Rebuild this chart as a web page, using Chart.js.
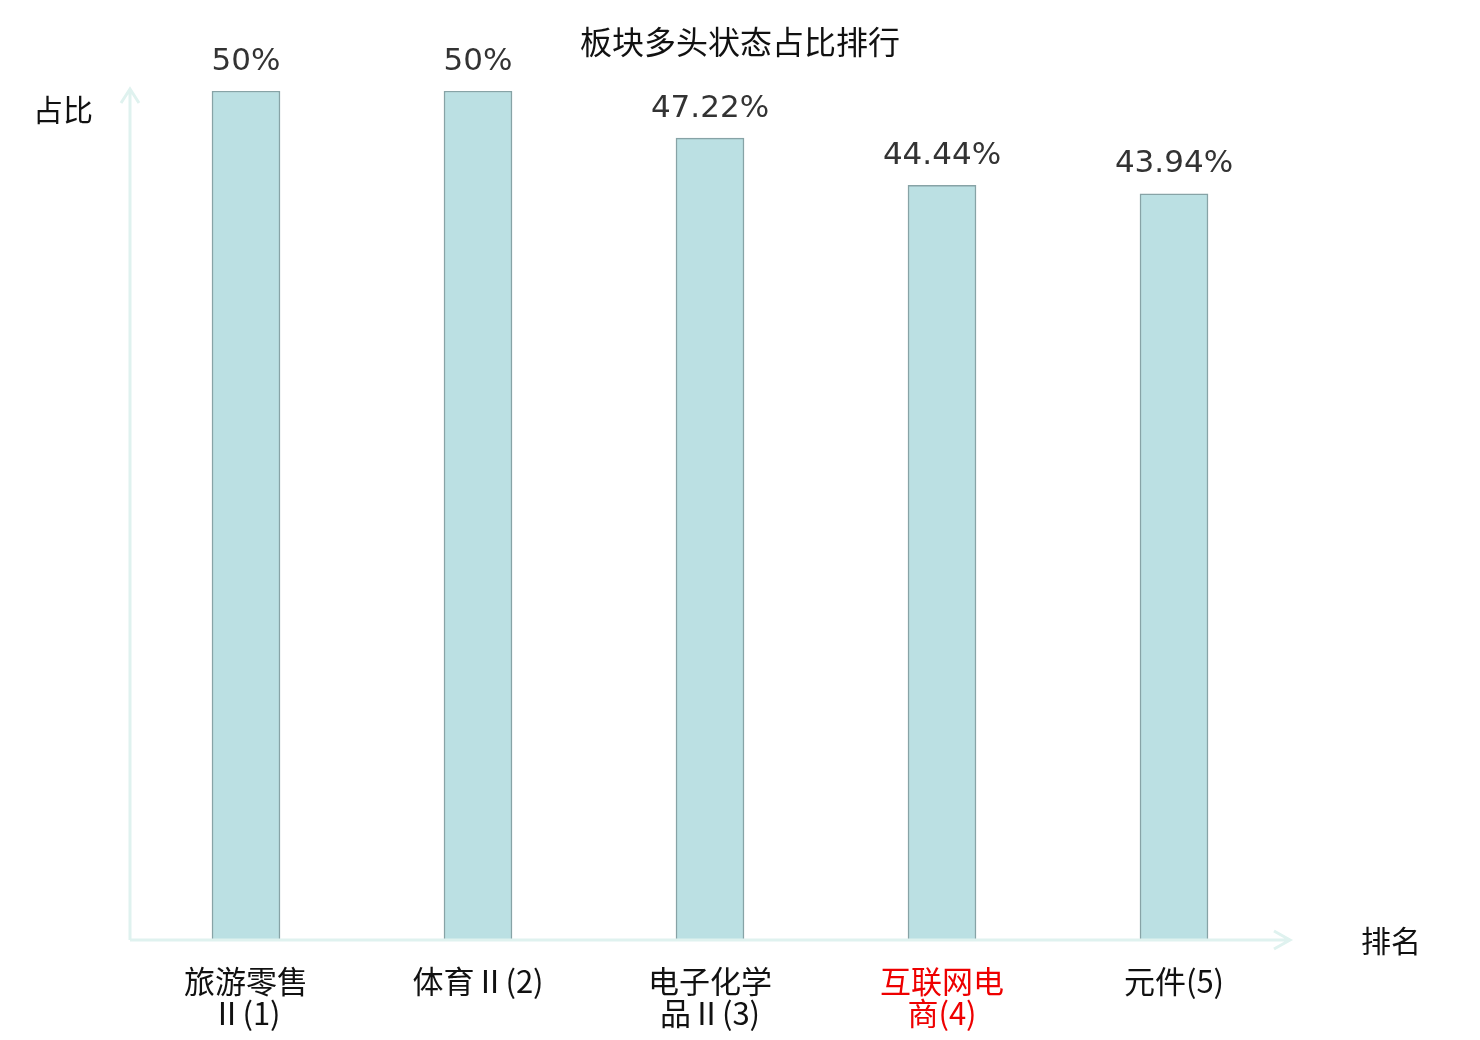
<!DOCTYPE html>
<html>
<head>
<meta charset="utf-8">
<script src="https://cdn.jsdelivr.net/npm/chart.js@4.4.1/dist/chart.umd.min.js"></script>
<style>
  html, body { margin: 0; padding: 0; background: #ffffff; }
  #wrap { width: 1480px; height: 1040px; }
</style>
</head>
<body>
<div id="wrap"><canvas id="canvas-ranking" width="1480" height="1040"></canvas></div>
<script>
const categorias = [
  ["旅游零售", "Ⅱ(1)"],
  "体育Ⅱ(2)",
  ["电子化学", "品Ⅱ(3)"],
  ["互联网电", "商(4)"],
  "元件(5)",
];
const porcentajes = [50, 50, 47.22, 44.44, 43.94];
const destacado = 3;

const titulo = "板块多头状态占比排行";
const tituloY = "占比";
const tituloX = "排名";

const cjk = '"Noto Sans CJK SC", "Noto Sans", sans-serif';
const ejeColor = "#dff2ef";

const decoracion = {
  id: "decoracion",
  afterDatasetsDraw(chart) {
    const ctx = chart.ctx;
    const area = chart.chartArea;
    ctx.save();

    // ejes con flecha
    ctx.strokeStyle = ejeColor;
    ctx.lineWidth = 3;
    ctx.beginPath();
    ctx.moveTo(area.left, area.bottom);
    ctx.lineTo(area.left, area.top - 2);
    ctx.moveTo(area.left - 9, area.top + 12);
    ctx.lineTo(area.left, area.top - 2);
    ctx.lineTo(area.left + 9, area.top + 12);
    ctx.moveTo(area.left, area.bottom);
    ctx.lineTo(area.right, area.bottom);
    ctx.moveTo(area.right - 16, area.bottom - 9);
    ctx.lineTo(area.right, area.bottom);
    ctx.lineTo(area.right - 16, area.bottom + 9);
    ctx.stroke();

    // etiquetas de valor
    const meta = chart.getDatasetMeta(0);
    ctx.fillStyle = "#333333";
    ctx.font = '31px "DejaVu Sans", sans-serif';
    ctx.textAlign = "center";
    ctx.textBaseline = "bottom";
    meta.data.forEach((bar, i) => {
      ctx.fillText(porcentajes[i] + "%", bar.x, bar.y - 14);
    });

    // titulos
    ctx.fillStyle = "#111111";
    ctx.font = "32px " + cjk;
    ctx.textBaseline = "middle";
    ctx.fillText(titulo, 740, 42);
    ctx.textAlign = "left";
    ctx.font = "30px " + cjk;
    ctx.fillText(tituloY, 33, 110);
    ctx.fillText(tituloX, 1361, 941);
    ctx.restore();
  },
};

function createGraficoRanking() {
  const data = {
    labels: categorias,
    datasets: [
      {
        data: porcentajes,
        backgroundColor: "#bbe0e3",
        borderColor: "#87a3a6",
        borderWidth: 1.5,
        barThickness: 68,
      },
    ],
  };

  const config = {
    type: "bar",
    data: data,
    options: {
      responsive: false,
      animation: false,
      layout: { padding: { top: 91, left: 130, right: 190, bottom: 0 } },
      plugins: {
        legend: { display: false },
        tooltip: { enabled: false },
      },
      scales: {
        x: {
          grid: { display: false },
          border: { display: false },
          afterFit(scale) {
            scale.height = 100;
          },
          ticks: {
            padding: 17,
            maxRotation: 0,
            autoSkip: false,
            font: { family: cjk, size: 31, lineHeight: 1.03 },
            color: (ctx) => (ctx.index === destacado ? "#ee0000" : "#111111"),
          },
        },
        y: {
          display: false,
          min: 0,
          max: 50,
        },
      },
    },
    plugins: [decoracion],
  };

  new Chart(document.getElementById("canvas-ranking"), config);
}

createGraficoRanking();
</script>
</body>
</html>
